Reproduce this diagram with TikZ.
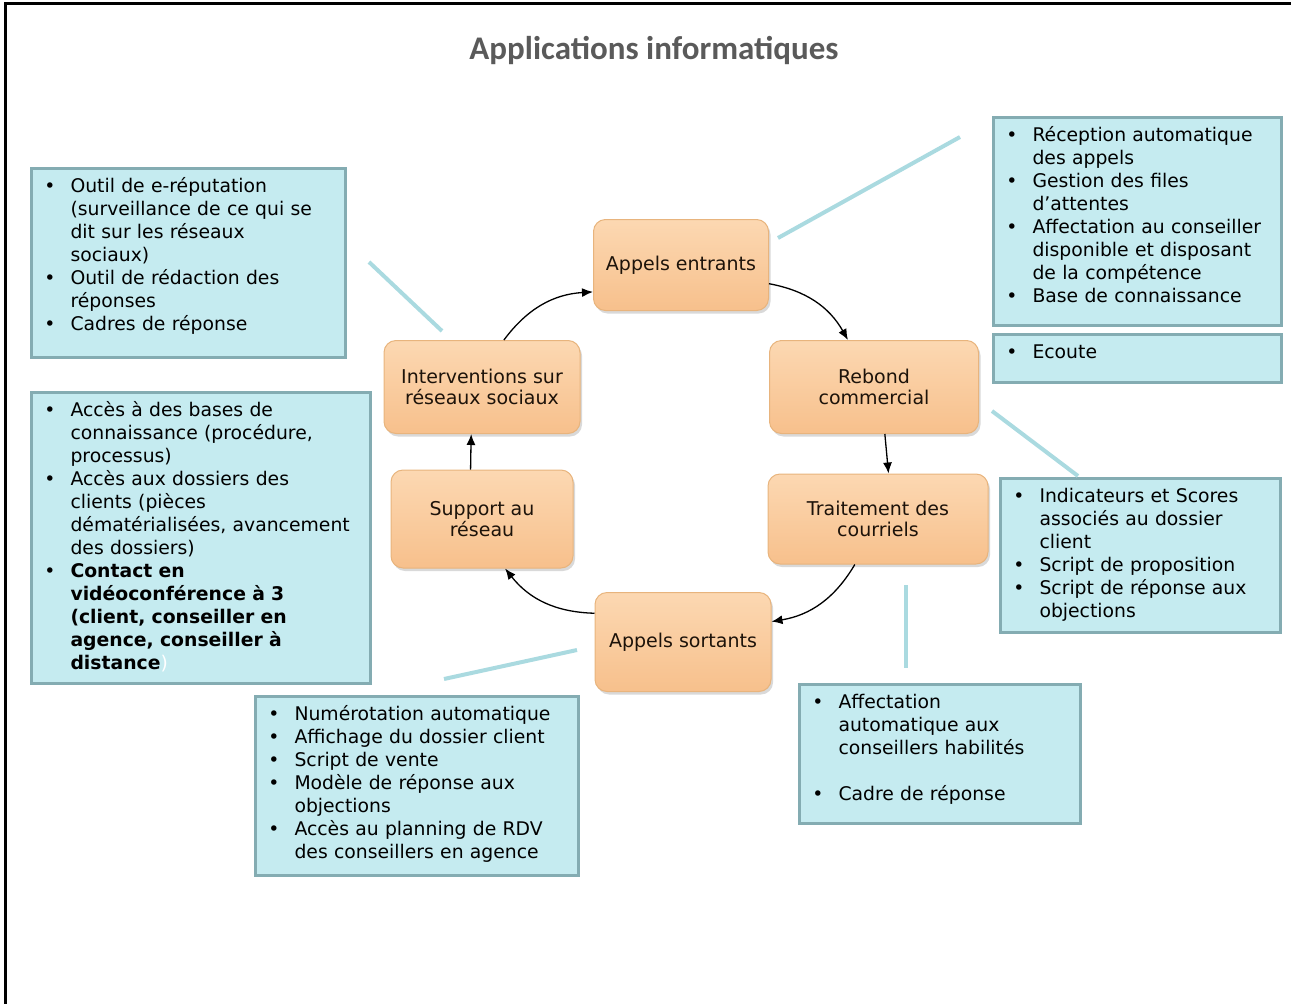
\documentclass[tikz,border=0pt]{standalone}
\usepackage{fontspec}
\setmainfont{DejaVu Sans}
\newfontfamily\titrefont{Carlito}
\usepackage{enumitem}
\usepackage{tikz}
\usetikzlibrary{shapes,arrows,arrows.meta,shadows,calc}

\setlist[itemize]{label=\textbullet,leftmargin=39pt,labelsep=15pt,nosep}

\definecolor{peachTop}{RGB}{252,216,178}
\definecolor{peachBot}{RGB}{247,192,140}
\definecolor{peachEdge}{RGB}{232,180,125}
\definecolor{cyanFill}{RGB}{197,235,240}
\definecolor{cyanEdge}{RGB}{132,172,178}
\definecolor{cyanLink}{RGB}{170,218,224}
\definecolor{titreGris}{RGB}{90,90,90}

\tikzset{
  etape/.style={rectangle,rounded corners=12pt,top color=peachTop,bottom color=peachBot,
    draw=peachEdge,line width=1pt,align=center,text=black!85!brown,
    font=\fontsize{19}{21}\selectfont,
    drop shadow={shadow xshift=2pt,shadow yshift=-3pt,opacity=0.3}},
  outil/.style={rectangle,anchor=north west,fill=cyanFill,draw=cyanEdge,line width=3pt,
    inner sep=0pt,text height=1pt,font=\fontsize{18.8}{23}\selectfont\raggedright},
  lien/.style={draw=cyanLink,line width=4pt},
  fleche/.style={-{Latex[length=11pt,width=9pt]},line width=1.3pt}
}

\begin{document}
\begin{tikzpicture}[x=1pt,y=-1pt]
  \useasboundingbox (0,0) rectangle (1291,1004);
  \draw[line width=3pt] (5,1004) -- (5,3) -- (1291,3);
  \node[text=titreGris,font=\titrefont\fontsize{33}{36}\bfseries\selectfont] (Titre) at (654,50) {Applications informatiques};

  % etapes du cycle
  \node[etape,minimum width=175pt,minimum height=91pt] (AE) at (681,265) {Appels entrants};
  \node[etape,minimum width=209pt,minimum height=93pt] (RC) at (874,387) {Rebond\\commercial};
  \node[etape,minimum width=220pt,minimum height=90pt] (TC) at (878,519) {Traitement des\\courriels};
  \node[etape,minimum width=176pt,minimum height=99pt] (AS) at (683,642) {Appels sortants};
  \node[etape,minimum width=182pt,minimum height=98pt] (SR) at (482,519) {Support au\\réseau};
  \node[etape,minimum width=196pt,minimum height=93pt] (IR) at (482,387) {Interventions sur\\réseaux sociaux};

  \draw[fleche] (AE.-12) to[bend left=25] (RC.119);
  \draw[fleche] (RC.-77) -- (TC.77);
  \draw[fleche] (TC.-117) to[bend left=25] (AS.13);
  \draw[fleche] (AS.162) to[bend left=25] (SR.-65);
  \draw[fleche] (SR.103) -- (IR.-103);
  \draw[fleche] (IR.65) to[bend left=25] (AE.-163);

  % applications
  \node[outil,text width=288pt,text depth=207pt] (AppAE) at (992,116) {
    \begin{itemize}
    \item Réception automatique\\des appels
    \item Gestion des files\\d’attentes
    \item Affectation au conseiller\\disponible et disposant\\de la compétence
    \item Base de connaissance
    \end{itemize}};
  \node[outil,text width=288pt,text depth=47pt] (AppEc) at (992,333) {
    \begin{itemize}
    \item Ecoute
    \end{itemize}};
  \node[outil,text width=280pt,text depth=153pt] (AppRC) at (999,477) {
    \begin{itemize}
    \item Indicateurs et Scores\\associés au dossier\\client
    \item Script de proposition
    \item Script de réponse aux\\objections
    \end{itemize}};
  \node[outil,text width=281pt,text depth=138pt] (AppTC) at (798,683) {
    \begin{itemize}
    \item Affectation\\automatique aux\\conseillers habilités
    \item[] \mbox{}
    \item Cadre de réponse
    \end{itemize}};
  \node[outil,text width=323pt,text depth=178pt] (AppAS) at (254,695) {
    \begin{itemize}
    \item Numérotation automatique
    \item Affichage du dossier client
    \item Script de vente
    \item Modèle de réponse aux\\objections
    \item Accès au planning de RDV\\des conseillers en agence
    \end{itemize}};
  \node[outil,text width=339pt,text depth=290pt] (AppSR) at (30,391) {
    \begin{itemize}
    \item Accès à des bases de\\connaissance (procédure,\\processus)
    \item Accès aux dossiers des\\clients (pièces\\dématérialisées, avancement\\des dossiers)
    \item \textbf{Contact en\\vidéoconférence à 3\\(client, conseiller en\\agence, conseiller à\\distance}\textcolor{white}{)}
    \end{itemize}};
  \node[outil,text width=314pt,text depth=188pt] (AppIR) at (30,167) {
    \begin{itemize}
    \item Outil de e-réputation\\(surveillance de ce qui se\\dit sur les réseaux\\sociaux)
    \item Outil de rédaction des\\réponses
    \item Cadres de réponse
    \end{itemize}};

  % liens
  \coordinate (LienAEa) at (778,238);
  \coordinate (LienAEb) at (960,137);
  \coordinate (LienIRa) at (369,262);
  \coordinate (LienIRb) at (442,331);
  \coordinate (LienRCa) at (992,411);
  \coordinate (LienRCb) at (1078,476);
  \coordinate (LienTCa) at (906,585);
  \coordinate (LienTCb) at (906,668);
  \coordinate (LienASa) at (444,679);
  \coordinate (LienASb) at (577,650);
  \draw[lien] (LienAEa) -- (LienAEb);
  \draw[lien] (LienIRa) -- (LienIRb);
  \draw[lien] (LienRCa) -- (LienRCb);
  \draw[lien] (LienTCa) -- (LienTCb);
  \draw[lien] (LienASa) -- (LienASb);
\end{tikzpicture}
\end{document}
